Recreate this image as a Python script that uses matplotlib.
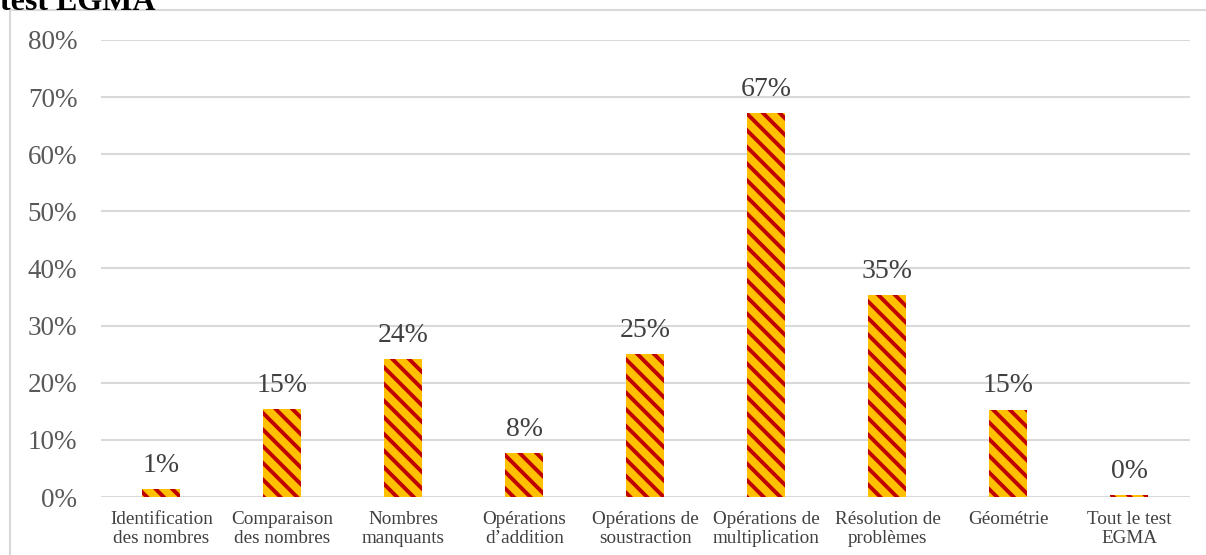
import numpy as np
import matplotlib.pyplot as plt
from matplotlib.patches import Rectangle

categories = ["Identification\ndes nombres", "Comparaison\ndes nombres", "Nombres\nmanquants",
              "Opérations\nd’addition", "Opérations de\nsoustraction", "Opérations de\nmultiplication",
              "Résolution de\nproblèmes", "Géométrie", "Tout le test\nEGMA"]
scores = [1.4, 15.4, 24.2, 7.7, 25.0, 67.2, 35.3, 15.3, 0.3]
yticks = [0, 10, 20, 30, 40, 50, 60, 70, 80]

plt.rcParams['font.family'] = ['Liberation Serif', 'DejaVu Serif']
plt.rcParams['hatch.linewidth'] = 2.8
plt.rcParams['hatch.color'] = '#C00000'

fig = plt.figure(figsize=(12.06, 5.55), dpi=100)
ax = fig.add_axes([0.0837, 0.1045, 0.9030, 0.8235])

x = np.arange(len(categories))
bars = ax.bar(x, scores, width=0.314, color='#FFC000', edgecolor='#C00000',
              linewidth=0, hatch='\\\\', zorder=3)

for xi, v in zip(x, scores):
    ax.annotate(f"{v:.0f}%", (xi, v), xytext=(0, 8), textcoords='offset points',
                ha='center', va='bottom', fontsize=20, color='#404040')

ax.set_xlim(-0.5, len(categories) - 0.5)
ax.set_ylim(0, 80)
ax.set_yticks(yticks)
ax.set_yticklabels([f"{t}%" for t in yticks], fontsize=19.5, color='#595959')
ax.set_xticks(x)
ax.set_xticklabels(categories, fontsize=13.8, color='#404040', linespacing=1.2)
ax.tick_params(axis='both', length=0)
ax.tick_params(axis='y', pad=17)
ax.tick_params(axis='x', pad=10)
ax.yaxis.grid(True, color='#d9d9d9', linewidth=1.5, zorder=0)
for s in ax.spines.values():
    s.set_visible(False)

# cadre du graphique
fig.patches.append(Rectangle((10 / 1206, -0.1), 1.2, 1 - 10 / 555 + 0.1,
                             transform=fig.transFigure, fill=False,
                             edgecolor='#d9d9d9', linewidth=1.5))

fig.text(0.0, 1 - 10 / 555, "test EGMA", fontsize=23, fontweight='bold',
         color='black', ha='left', va='baseline')

fig.savefig("out.png", dpi=100)
